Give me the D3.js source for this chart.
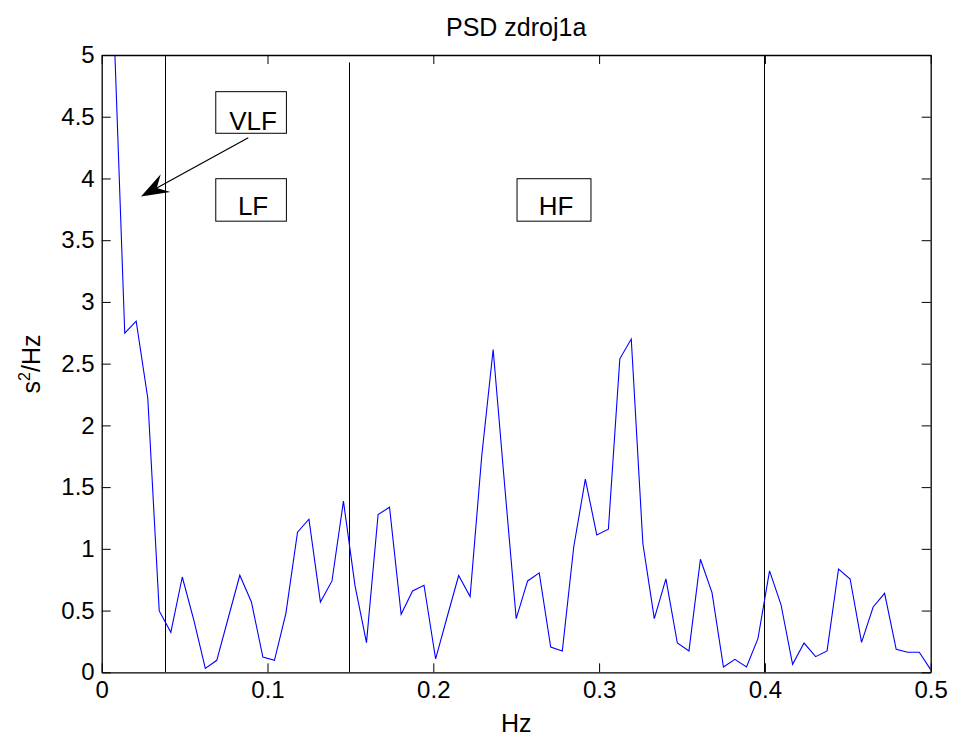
<!DOCTYPE html>
<html>
<head>
<meta charset="utf-8">
<script src="https://cdn.jsdelivr.net/npm/d3@7/dist/d3.min.js"></script>
<style>
  html, body { margin: 0; padding: 0; background: #fff; }
  svg { display: block; }
  text { font-family: Arial, "Liberation Sans", sans-serif; fill: #000; }
</style>
</head>
<body>
<svg id="chart" width="953" height="740"></svg>
<script>
// ---- data ----
const title = "PSD zdroj1a";
const xLabel = "Hz";
const freq = [0, 0.0069, 0.0139, 0.0208, 0.0278, 0.0347, 0.0417, 0.0486, 0.0556, 0.0625,
  0.0694, 0.0764, 0.0833, 0.0903, 0.0972, 0.1042, 0.1111, 0.1181, 0.125, 0.1319,
  0.1389, 0.1458, 0.1528, 0.1597, 0.1667, 0.1736, 0.1806, 0.1875, 0.1944, 0.2014,
  0.2083, 0.2153, 0.2222, 0.2292, 0.2361, 0.2431, 0.25, 0.2569, 0.2639, 0.2708,
  0.2778, 0.2847, 0.2917, 0.2986, 0.3056, 0.3125, 0.3194, 0.3264, 0.3333, 0.3403,
  0.3472, 0.3542, 0.3611, 0.3681, 0.375, 0.3819, 0.3889, 0.3958, 0.4028, 0.4097,
  0.4167, 0.4236, 0.4306, 0.4375, 0.4444, 0.4514, 0.4583, 0.4653, 0.4722, 0.4792,
  0.4861, 0.4931, 0.5];
const psd = [6.5, 5.41, 2.747, 2.844, 2.22, 0.497, 0.324, 0.772, 0.421, 0.032,
  0.097, 0.444, 0.786, 0.57, 0.124, 0.097, 0.478, 1.135, 1.24, 0.57,
  0.74, 1.386, 0.70, 0.24, 1.278, 1.337, 0.47, 0.659, 0.705, 0.108,
  0.446, 0.784, 0.613, 1.75, 2.615, 1.505, 0.435, 0.74, 0.805, 0.205,
  0.173, 1.015, 1.564, 1.113, 1.159, 2.539, 2.699, 1.043, 0.435, 0.756,
  0.237, 0.173, 0.916, 0.646, 0.043, 0.105, 0.043, 0.273, 0.821, 0.549,
  0.065, 0.237, 0.127, 0.173, 0.837, 0.756, 0.243, 0.529, 0.64, 0.186,
  0.162, 0.162, 0.022];
const xTicks = [0, 0.1, 0.2, 0.3, 0.4, 0.5];
const xTickLabels = ["0", "0.1", "0.2", "0.3", "0.4", "0.5"];
const yTicks = [0, 0.5, 1, 1.5, 2, 2.5, 3, 3.5, 4, 4.5, 5];
const yTickLabels = ["0", "0.5", "1", "1.5", "2", "2.5", "3", "3.5", "4", "4.5", "5"];
const bandEdges = [0.038, 0.149, 0.3996];
const bandTops = [5, 4.94, 5];
const bandLabels = ["VLF", "LF", "HF"];

// ---- layout ----
const L = 101.7, R = 930.7, T = 55, B = 672.3;
const svg = d3.select("#chart");
const x = d3.scaleLinear().domain([0, 0.5]).range([L, R]);
const y = d3.scaleLinear().domain([0, 5]).range([B, T]);

// clip
svg.append("defs").append("clipPath").attr("id", "clip")
  .append("rect").attr("x", L).attr("y", T).attr("width", R - L).attr("height", B - T);

// band boundary lines
svg.append("g").selectAll("line").data(bandEdges).join("line")
  .attr("x1", d => Math.round(x(d)) + 0.5).attr("x2", d => Math.round(x(d)) + 0.5)
  .attr("y1", y(0)).attr("y2", (d, i) => y(bandTops[i]))
  .attr("stroke", "#000").attr("stroke-width", 1);

// PSD line
const line = d3.line().x((d, i) => x(freq[i])).y(d => y(d));
svg.append("path").datum(psd)
  .attr("clip-path", "url(#clip)")
  .attr("d", line)
  .attr("fill", "none").attr("stroke", "#0000ff").attr("stroke-width", 1.1);

// axes
const fs = 24;
const axB = d3.axisBottom(x).tickValues(xTicks).tickFormat((d, i) => xTickLabels[i])
  .tickSizeInner(-9).tickSizeOuter(0).tickPadding(9);
const axT = d3.axisTop(x).tickValues(xTicks).tickFormat("")
  .tickSizeInner(-9).tickSizeOuter(0);
const axL = d3.axisLeft(y).tickValues(yTicks).tickFormat((d, i) => yTickLabels[i])
  .tickSizeInner(-9).tickSizeOuter(0).tickPadding(7);
const axR = d3.axisRight(y).tickValues(yTicks).tickFormat("")
  .tickSizeInner(-9).tickSizeOuter(0);

function style(g) {
  g.select(".domain").attr("stroke", "#000").attr("stroke-width", 1.3);
  g.selectAll(".tick line").attr("stroke", "#000").attr("stroke-width", 1);
  g.selectAll(".tick text").attr("font-size", fs).attr("font-family", "Arial, 'Liberation Sans', sans-serif").attr("fill", "#000");
}
svg.append("g").attr("transform", `translate(0,${B})`).call(axB).call(style);
svg.append("g").attr("transform", `translate(0,${T})`).call(axT).call(style);
svg.append("g").attr("transform", `translate(${L},0)`).call(axL).call(style);
svg.append("g").attr("transform", `translate(${R},0)`).call(axR).call(style);

// title & labels
svg.append("text").attr("x", (L + R) / 2).attr("y", 36)
  .attr("text-anchor", "middle").attr("font-size", 25).text(title);
svg.append("text").attr("x", (L + R) / 2).attr("y", 732)
  .attr("text-anchor", "middle").attr("font-size", 25).text(xLabel);
const yl = svg.append("text").attr("transform", "translate(40,364) rotate(-90)")
  .attr("text-anchor", "middle").attr("font-size", 25);
yl.append("tspan").text("s");
yl.append("tspan").attr("font-size", 16).attr("dy", -10).text("2");
yl.append("tspan").attr("dy", 10).text("/Hz");

// annotation boxes (data coords)
const boxes = [
  { label: bandLabels[0], x0: 0.0688, x1: 0.1114, y0: 4.366, y1: 4.703, base: 4.395 },
  { label: bandLabels[1], x0: 0.0688, x1: 0.1114, y0: 3.654, y1: 3.998, base: 3.704 },
  { label: bandLabels[2], x0: 0.2505, x1: 0.2951, y0: 3.654, y1: 3.998, base: 3.704 }
];
const bg = svg.append("g").selectAll("g").data(boxes).join("g");
bg.append("rect")
  .attr("x", d => x(d.x0)).attr("y", d => y(d.y1))
  .attr("width", d => x(d.x1) - x(d.x0)).attr("height", d => y(d.y0) - y(d.y1))
  .attr("fill", "#fff").attr("stroke", "#000").attr("stroke-width", 1);
bg.append("text")
  .attr("x", d => (x(d.x0) + x(d.x1)) / 2 + 2).attr("y", d => y(d.base))
  .attr("text-anchor", "middle").attr("font-size", 26).text(d => d.label);

// arrow from VLF box toward the VLF region
const arrow = { fx: 0.0884, fy: 4.33, tx: 0.0237, ty: 3.853 };
const ax1 = x(arrow.fx), ay1 = y(arrow.fy), ax2 = x(arrow.tx), ay2 = y(arrow.ty);
const ang = Math.atan2(ay2 - ay1, ax2 - ax1);
const hl = 28, hw = 10, notch = 18;
function pt(along, perp) {
  return [ax2 - along * Math.cos(ang) - perp * Math.sin(ang),
          ay2 - along * Math.sin(ang) + perp * Math.cos(ang)];
}
svg.append("line")
  .attr("x1", ax1).attr("y1", ay1)
  .attr("x2", pt(notch, 0)[0]).attr("y2", pt(notch, 0)[1])
  .attr("stroke", "#000").attr("stroke-width", 1.2);
svg.append("path")
  .attr("d", "M" + [ax2, ay2] + "L" + pt(hl, hw) + "L" + pt(notch, 0) + "L" + pt(hl, -hw) + "Z")
  .attr("fill", "#000");
</script>
</body>
</html>
